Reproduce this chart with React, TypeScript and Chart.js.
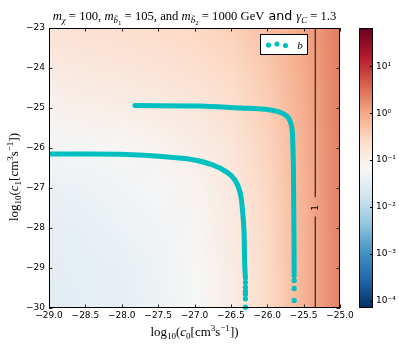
import React, { useEffect, useRef } from 'react';
import { Chart, registerables } from 'chart.js';

Chart.register(...registerables);

// ---- axes ----
const X_MIN = -29;
const X_MAX = -25;
const Y_MIN = -30;
const Y_MAX = -23;

// ---- colour bar (log scale) ----
const CB_LOG_MIN = -4.14;
const CB_LOG_MAX = 1.82;
const CB_TICKS = [1e-4, 1e-3, 1e-2, 1e-1, 1, 10];
const CB_TICK_LABELS = ['10⁻⁴', '10⁻³', '10⁻²', '10⁻¹', '10⁰', '10¹'];
const RDBU_R = ['#053061', '#2166ac', '#4393c3', '#92c5de', '#d1e5f0', '#f7f7f7', '#fddbc7', '#f4a582', '#d6604d', '#b2182b', '#67001f'];

// ---- series "b" ----
const curve1X = [-28.97, -27.93, -27.10, -26.75, -26.55, -26.44, -26.37, -26.34, -26.32, -26.31, -26.30];
const curve1Y = [-26.15, -26.16, -26.27, -26.42, -26.61, -26.81, -27.14, -27.56, -28.06, -28.89, -29.26];
const tail1X = [-26.30, -26.30, -26.30, -26.30, -26.30, -26.30];
const tail1Y = [-29.36, -29.48, -29.58, -29.66, -29.77, -29.98];

const curve2X = [-27.82, -26.92, -26.37, -26.03, -25.85, -25.74, -25.69, -25.66, -25.65, -25.64, -25.63];
const curve2Y = [-24.94, -24.95, -25.00, -25.03, -25.09, -25.19, -25.31, -25.51, -25.81, -26.56, -29.11];
const tail2X = [-25.63, -25.63, -25.63, -25.63];
const tail2Y = [-29.19, -29.31, -29.51, -29.81];

// ---- contour (level 1) ----
const contourX = -25.34;
const contourGapTop = -27.23;
const contourGapBottom = -27.71;
const contourLabelY = -27.5;
const contourLabel = '1';

// ---- background field, log10 values ----
const heatX = [-29, -28.5, -28, -27.5, -27, -26.5, -26, -25.5, -25];
const heatY = [-23, -24, -25, -26, -27, -28, -29, -30];
const heatLog = [
  [-0.74, -0.70, -0.66, -0.61, -0.55, -0.45, -0.27, 0.01, 0.41],
  [-0.89, -0.84, -0.80, -0.75, -0.68, -0.56, -0.35, -0.03, 0.39],
  [-1.05, -1.00, -0.96, -0.90, -0.82, -0.67, -0.43, -0.06, 0.38],
  [-1.24, -1.19, -1.14, -1.08, -0.97, -0.79, -0.49, -0.10, 0.36],
  [-1.36, -1.31, -1.26, -1.19, -1.07, -0.86, -0.53, -0.11, 0.36],
  [-1.43, -1.39, -1.34, -1.25, -1.12, -0.89, -0.55, -0.12, 0.36],
  [-1.48, -1.43, -1.38, -1.30, -1.15, -0.92, -0.56, -0.12, 0.35],
  [-1.51, -1.46, -1.41, -1.32, -1.17, -0.93, -0.56, -0.12, 0.35],
];

const CYAN = '#00bfbf';
const SERIF = '"Liberation Serif", "DejaVu Serif", serif';
const SANS = '"DejaVu Sans", sans-serif';

const pts = (xs: number[], ys: number[]) => xs.map((x, i) => ({ x, y: ys[i] }));
const fmt = (v: number, d: number) => (v < -1e-9 ? '\u2212' : '') + Math.abs(v).toFixed(d);

function hexToRgb(h: string) {
  return [parseInt(h.slice(1, 3), 16), parseInt(h.slice(3, 5), 16), parseInt(h.slice(5, 7), 16)];
}
function cmap(t: number) {
  const c = Math.min(1, Math.max(0, t)) * (RDBU_R.length - 1);
  const i = Math.min(RDBU_R.length - 2, Math.floor(c));
  const f = c - i;
  const a = hexToRgb(RDBU_R[i]);
  const b = hexToRgb(RDBU_R[i + 1]);
  return [0, 1, 2].map((k) => Math.round(a[k] + (b[k] - a[k]) * f));
}
const norm = (lg: number) => (lg - CB_LOG_MIN) / (CB_LOG_MAX - CB_LOG_MIN);

// ---- rich text helper ----
type Seg = { t: string; it?: boolean; lvl?: number; sans?: boolean };
function segSize(s: Seg, base: number) {
  const l = s.lvl || 0;
  return l === 0 ? base : Math.abs(l) === 1 ? base * 0.7 : base * 0.55;
}
function segOff(s: Seg, base: number) {
  const l = s.lvl || 0;
  if (l === 1) return base * 0.22;
  if (l === 2) return base * 0.36;
  if (l === -1) return -base * 0.4;
  return 0;
}
function setSegFont(ctx: CanvasRenderingContext2D, s: Seg, base: number) {
  ctx.font = `${s.it ? 'italic ' : ''}${segSize(s, base)}px ${s.sans ? SANS : SERIF}`;
}
function richWidth(ctx: CanvasRenderingContext2D, segs: Seg[], base: number) {
  let w = 0;
  for (const s of segs) {
    setSegFont(ctx, s, base);
    w += ctx.measureText(s.t).width;
  }
  return w;
}
function drawRich(ctx: CanvasRenderingContext2D, segs: Seg[], base: number, cx: number, by: number) {
  let x = cx - richWidth(ctx, segs, base) / 2;
  ctx.textAlign = 'left';
  ctx.textBaseline = 'alphabetic';
  for (const s of segs) {
    setSegFont(ctx, s, base);
    ctx.fillText(s.t, x, by + segOff(s, base));
    x += ctx.measureText(s.t).width;
  }
}

const TITLE: Seg[] = [
  { t: 'm', it: true }, { t: 'χ', it: true, lvl: 1 }, { t: ' = 100, ' },
  { t: 'm', it: true }, { t: 'b̃', it: true, lvl: 1 }, { t: '1', lvl: 2 }, { t: ' = 105, and ' },
  { t: 'm', it: true }, { t: 'b̃', it: true, lvl: 1 }, { t: '2', lvl: 2 }, { t: ' = 1000 GeV' },
  { t: ' and ', sans: true },
  { t: 'γ', it: true }, { t: 'C', it: true, lvl: 1 }, { t: ' = 1.3' },
];
const TITLE_WIDTH = 284;
const AXIS_TITLE_WIDTH = 88;
const axisTitle = (idx: string): Seg[] => [
  { t: 'log' }, { t: '10', lvl: 1 }, { t: '(' }, { t: 'c', it: true }, { t: idx, lvl: 1 },
  { t: '[cm' }, { t: '3', lvl: -1 }, { t: 's' }, { t: '−1', lvl: -1 }, { t: '])' },
];

const noPad = (s: any) => {
  s.paddingTop = 0;
  s.paddingBottom = 0;
  s.paddingLeft = 0;
  s.paddingRight = 0;
};

const heatPlugin = {
  id: 'heat',
  beforeDatasetsDraw(chart: any) {
    const { ctx, chartArea: a, scales } = chart;
    const nx = heatX.length;
    const ny = heatY.length;
    const off = document.createElement('canvas');
    off.width = nx;
    off.height = ny;
    const octx = off.getContext('2d')!;
    const img = octx.createImageData(nx, ny);
    for (let j = 0; j < ny; j++) {
      for (let i = 0; i < nx; i++) {
        const c = cmap(norm(heatLog[j][i]));
        const k = (j * nx + i) * 4;
        img.data[k] = c[0];
        img.data[k + 1] = c[1];
        img.data[k + 2] = c[2];
        img.data[k + 3] = 255;
      }
    }
    octx.putImageData(img, 0, 0);
    const x0 = scales.x.getPixelForValue(heatX[0]);
    const x1 = scales.x.getPixelForValue(heatX[nx - 1]);
    const y0 = scales.y.getPixelForValue(heatY[0]);
    const y1 = scales.y.getPixelForValue(heatY[ny - 1]);
    const dx = (x1 - x0) / (nx - 1);
    const dy = (y1 - y0) / (ny - 1);
    ctx.save();
    ctx.beginPath();
    ctx.rect(a.left, a.top, a.right - a.left, a.bottom - a.top);
    ctx.clip();
    ctx.imageSmoothingEnabled = true;
    ctx.imageSmoothingQuality = 'low';
    ctx.drawImage(off, x0 - dx / 2, y0 - dy / 2, dx * nx, dy * ny);
    ctx.restore();
  },
};

const decorPlugin = {
  id: 'decor',
  afterDraw(chart: any) {
    const { ctx, chartArea: a, scales } = chart;
    const sx = scales.x;
    const sy = scales.y;
    const cb = scales.cb;
    ctx.save();

    // contour label
    ctx.fillStyle = '#000';
    ctx.font = `9px ${SANS}`;
    ctx.textAlign = 'center';
    ctx.textBaseline = 'middle';
    ctx.save();
    ctx.translate(sx.getPixelForValue(contourX), sy.getPixelForValue(contourLabelY));
    ctx.rotate(-Math.PI / 2);
    ctx.fillText(contourLabel, 0, 0);
    ctx.restore();

    // inner ticks
    ctx.strokeStyle = '#222';
    ctx.lineWidth = 1;
    const tl = 3.5;
    ctx.beginPath();
    for (const t of sx.ticks) {
      const px = Math.round(sx.getPixelForValue(t.value)) + 0.5;
      ctx.moveTo(px, a.bottom);
      ctx.lineTo(px, a.bottom - tl);
      ctx.moveTo(px, a.top);
      ctx.lineTo(px, a.top + tl);
    }
    for (const t of sy.ticks) {
      const py = Math.round(sy.getPixelForValue(t.value)) + 0.5;
      ctx.moveTo(a.left, py);
      ctx.lineTo(a.left + tl, py);
      ctx.moveTo(a.right, py);
      ctx.lineTo(a.right - tl, py);
    }
    ctx.stroke();

    // frame
    ctx.strokeStyle = '#000';
    ctx.strokeRect(a.left + 0.5, a.top + 0.5, a.right - a.left - 1, a.bottom - a.top - 1);

    // legend
    const lx = a.right - 80;
    const ly = a.top + 6;
    ctx.fillStyle = '#fff';
    ctx.fillRect(lx, ly, 48, 21);
    ctx.strokeStyle = '#000';
    ctx.strokeRect(lx + 0.5, ly + 0.5, 47, 20);
    ctx.fillStyle = CYAN;
    const dots = [[8.5, 11], [17, 10], [25.5, 11.5]];
    for (const [ddx, ddy] of dots) {
      ctx.beginPath();
      ctx.arc(lx + ddx, ly + ddy, 2.6, 0, Math.PI * 2);
      ctx.fill();
    }
    ctx.fillStyle = '#000';
    ctx.font = `italic 11px ${SERIF}`;
    ctx.textAlign = 'center';
    ctx.textBaseline = 'alphabetic';
    ctx.fillText('b', lx + 40, ly + 15);

    // colour bar
    const cL = a.right + 19;
    const cW = 14;
    const g = ctx.createLinearGradient(0, cb.bottom, 0, cb.top);
    RDBU_R.forEach((c, i) => g.addColorStop(i / (RDBU_R.length - 1), c));
    ctx.fillStyle = g;
    ctx.fillRect(cL, cb.top, cW, cb.bottom - cb.top);
    ctx.strokeStyle = '#000';
    ctx.strokeRect(cL + 0.5, cb.top + 0.5, cW - 1, cb.bottom - cb.top - 1);
    ctx.beginPath();
    for (const t of cb.ticks) {
      const py = Math.round(cb.getPixelForValue(t.value)) + 0.5;
      ctx.moveTo(cL + cW, py);
      ctx.lineTo(cL + cW - 3, py);
    }
    ctx.stroke();

    // titles
    ctx.fillStyle = '#000';
    const tBase = 12 * TITLE_WIDTH / richWidth(ctx, TITLE, 12);
    drawRich(ctx, TITLE, tBase, (a.left + a.right) / 2, 20);
    const aBase = 12 * AXIS_TITLE_WIDTH / richWidth(ctx, axisTitle('0'), 12);
    drawRich(ctx, axisTitle('0'), aBase, (a.left + a.right) / 2, 336);
    ctx.save();
    ctx.translate(18, 177);
    ctx.rotate(-Math.PI / 2);
    drawRich(ctx, axisTitle('1'), aBase, 0, 0);
    ctx.restore();

    ctx.restore();
  },
};

export default function App() {
  const ref = useRef<HTMLCanvasElement>(null);
  useEffect(() => {
    const canvas = ref.current!;
    const chart = new Chart(canvas, {
      type: 'scatter',
      data: {
        datasets: [
          { data: pts(curve1X, curve1Y), showLine: true, borderColor: CYAN, borderWidth: 5, pointRadius: 0, tension: 0.35, borderCapStyle: 'round', borderJoinStyle: 'round' } as any,
          { data: pts(curve2X, curve2Y), showLine: true, borderColor: CYAN, borderWidth: 5, pointRadius: 0, tension: 0.35, borderCapStyle: 'round', borderJoinStyle: 'round' } as any,
          { data: pts(tail1X, tail1Y), pointRadius: 2.6, backgroundColor: CYAN, borderWidth: 0, clip: 4 } as any,
          { data: pts(tail2X, tail2Y), pointRadius: 2.6, backgroundColor: CYAN, borderWidth: 0, clip: 4 } as any,
          { data: [{ x: contourX, y: Y_MAX }, { x: contourX, y: contourGapTop }, { x: contourX, y: null }, { x: contourX, y: contourGapBottom }, { x: contourX, y: Y_MIN }], showLine: true, spanGaps: false, borderColor: '#1a1a1a', borderWidth: 1.1, pointRadius: 0 } as any,
        ],
      },
      options: {
        responsive: false,
        devicePixelRatio: 1,
        animation: false,
        layout: { autoPadding: false, padding: { top: 28, left: 0, right: 0, bottom: 0 } },
        plugins: { legend: { display: false }, tooltip: { enabled: false }, title: { display: false } },
        scales: {
          x: {
            type: 'linear', position: 'bottom', min: X_MIN, max: X_MAX,
            grid: { display: false, drawTicks: false }, border: { display: false },
            ticks: { stepSize: 0.5, autoSkip: false, maxRotation: 0, padding: 2, color: '#000', font: { family: SANS, size: 9 }, callback: (v: any) => fmt(Number(v), 1) },
            afterFit: (s: any) => { s.height = 36; noPad(s); },
          },
          y: {
            type: 'linear', position: 'left', min: Y_MIN, max: Y_MAX,
            grid: { display: false, drawTicks: false }, border: { display: false },
            ticks: { stepSize: 1, autoSkip: false, padding: 4, color: '#000', font: { family: SANS, size: 9 }, callback: (v: any) => fmt(Number(v), 0) },
            afterFit: (s: any) => { s.width = 49; noPad(s); },
          },
          cb: {
            type: 'logarithmic', position: 'right', min: Math.pow(10, CB_LOG_MIN), max: Math.pow(10, CB_LOG_MAX),
            grid: { display: false, drawTicks: false }, border: { display: false },
            afterBuildTicks: (s: any) => { s.ticks = CB_TICKS.map((v) => ({ value: v })); },
            ticks: {
              autoSkip: false, padding: 36, color: '#000', font: { family: SANS, size: 9 },
              callback: (v: any) => {
                const i = CB_TICKS.findIndex((t) => Math.abs(Math.log10(t) - Math.log10(Number(v))) < 1e-6);
                return i >= 0 ? CB_TICK_LABELS[i] : '';
              },
            },
            afterFit: (s: any) => { s.width = 59; noPad(s); },
          },
        } as any,
      },
      plugins: [heatPlugin, decorPlugin],
    });
    return () => chart.destroy();
  }, []);
  return (
    <div style={{ position: 'fixed', left: 0, top: 0, width: 399, height: 344, background: '#fff' }}>
      <canvas ref={ref} width={399} height={344} style={{ display: 'block', width: 399, height: 344 }} />
    </div>
  );
}
